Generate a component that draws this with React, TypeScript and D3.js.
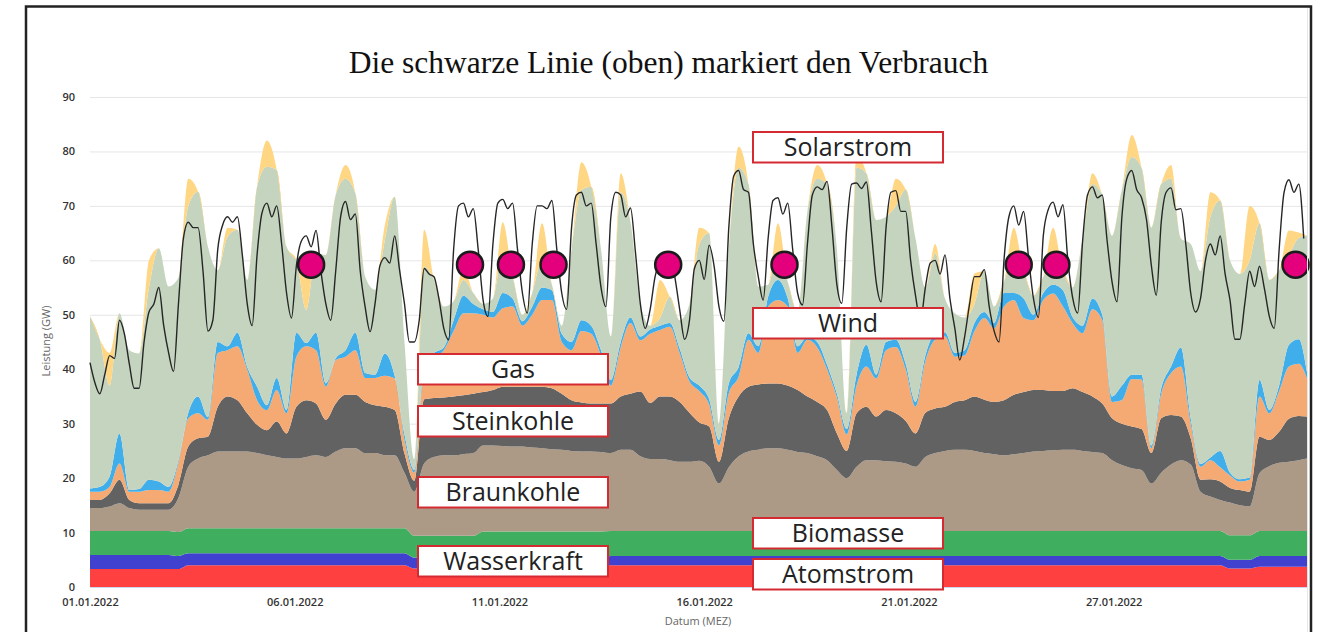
import React, { useEffect, useRef } from 'react';
import * as d3 from 'd3';

// Stromerzeugung Januar 2022, Werte in GW, alle 6 h (Stunden ab 01.01.2022 00:00, letzter Punkt 31.01. 23:00)
const mixHours = [...d3.range(0, 739, 6), 743];

const atomstrom = [
  3.3, 3.3, 3.3, 3.3, 3.3, 3.3, 3.3, 3.3, 3.3, 3.3, 4.0, 4.0,
  4.0, 4.0, 4.0, 4.0, 4.0, 4.0, 4.0, 4.0, 4.0, 4.0, 4.0, 4.0,
  4.0, 4.0, 4.0, 4.0, 4.0, 4.0, 4.0, 4.0, 4.0, 3.4, 3.4, 3.4,
  3.4, 3.4, 3.4, 3.4, 3.4, 3.4, 3.4, 3.4, 3.4, 3.4, 3.4, 3.4,
  3.4, 3.4, 3.4, 3.4, 3.4, 4.0, 4.0, 4.0, 4.0, 4.0, 4.0, 4.0,
  4.0, 4.0, 4.0, 4.0, 4.0, 4.0, 4.0, 4.0, 4.0, 4.0, 4.0, 4.0,
  4.0, 4.0, 4.0, 4.0, 4.0, 4.0, 4.0, 4.0, 4.0, 4.0, 4.0, 4.0,
  4.0, 4.0, 4.0, 4.0, 4.0, 4.0, 4.0, 4.0, 4.0, 4.0, 4.0, 4.0,
  4.0, 4.0, 4.0, 4.0, 4.0, 4.0, 4.0, 4.0, 4.0, 4.0, 4.0, 4.0,
  4.0, 4.0, 4.0, 4.0, 4.0, 4.0, 4.0, 4.0, 3.4, 3.4, 3.4, 3.7,
  3.7, 3.7, 3.7, 3.7, 3.7,
];
const wasserkraft = [
  2.6, 2.6, 2.6, 2.6, 2.6, 2.6, 2.6, 2.6, 2.6, 2.4, 2.2, 2.2,
  2.2, 2.2, 2.2, 2.2, 2.2, 2.2, 2.2, 2.2, 2.2, 2.2, 2.2, 2.2,
  2.2, 2.2, 2.2, 2.2, 2.2, 2.2, 2.2, 2.2, 2.2, 2.0, 2.0, 2.0,
  2.0, 2.0, 2.0, 2.0, 2.0, 2.0, 2.0, 2.0, 2.0, 2.0, 2.0, 2.0,
  2.0, 2.0, 2.0, 2.0, 2.0, 1.7, 1.7, 1.7, 1.7, 1.7, 1.7, 1.7,
  1.7, 1.7, 1.7, 1.7, 1.7, 1.7, 1.7, 1.7, 1.7, 1.7, 1.7, 1.7,
  1.7, 1.7, 1.7, 1.7, 1.7, 1.7, 1.7, 1.7, 1.7, 1.7, 1.7, 1.7,
  1.7, 1.7, 1.7, 1.7, 1.7, 1.7, 1.7, 1.7, 1.7, 1.7, 1.7, 1.7,
  1.7, 1.7, 1.7, 1.7, 1.7, 1.7, 1.7, 1.7, 1.7, 1.7, 1.7, 1.7,
  1.7, 1.7, 1.7, 1.7, 1.7, 1.7, 1.7, 1.7, 1.6, 1.6, 1.6, 2.0,
  2.0, 2.0, 2.0, 2.0, 2.0,
];
const biomasse = [
  4.4, 4.4, 4.4, 4.4, 4.4, 4.4, 4.4, 4.4, 4.4, 4.4, 4.6, 4.6,
  4.6, 4.6, 4.6, 4.6, 4.6, 4.6, 4.6, 4.6, 4.6, 4.6, 4.6, 4.6,
  4.6, 4.6, 4.6, 4.6, 4.6, 4.6, 4.6, 4.6, 4.6, 4.0, 4.0, 4.0,
  4.0, 4.0, 4.0, 4.0, 4.8, 4.8, 4.8, 4.8, 4.8, 4.8, 4.8, 4.8,
  4.8, 4.8, 4.8, 4.8, 4.8, 4.6, 4.6, 4.6, 4.6, 4.6, 4.6, 4.6,
  4.6, 4.6, 4.6, 4.6, 4.6, 4.6, 4.6, 4.6, 4.6, 4.6, 4.6, 4.6,
  4.6, 4.6, 4.6, 4.6, 4.6, 4.6, 4.6, 4.6, 4.6, 4.6, 4.6, 4.6,
  4.6, 4.6, 4.6, 4.6, 4.6, 4.6, 4.6, 4.6, 4.6, 4.6, 4.6, 4.6,
  4.6, 4.6, 4.6, 4.6, 4.6, 4.6, 4.6, 4.6, 4.6, 4.6, 4.6, 4.6,
  4.6, 4.6, 4.6, 4.6, 4.6, 4.6, 4.6, 4.6, 4.5, 4.5, 4.5, 4.6,
  4.6, 4.6, 4.6, 4.6, 4.6,
];
const braunkohle = [
  4.2, 4.2, 4.5, 5.1, 4.2, 3.9, 3.9, 3.9, 3.9, 6.3, 11.3, 12.8,
  13.4, 14.1, 14.1, 14.1, 14.1, 13.8, 13.4, 13.1, 12.8, 12.8, 13.1, 13.4,
  13.1, 14.1, 14.7, 14.7, 13.8, 13.8, 13.4, 13.4, 10.2, 8.1, 13.3, 14.5,
  14.8, 14.8, 15.0, 15.2, 15.8, 15.8, 15.7, 15.6, 15.6, 15.4, 15.3, 15.1,
  15.0, 14.8, 14.7, 14.7, 14.6, 14.3, 14.9, 14.9, 13.7, 13.2, 13.2, 13.0,
  12.7, 12.7, 12.9, 11.8, 8.7, 11.7, 13.7, 14.6, 14.9, 15.2, 15.2, 14.9,
  14.5, 14.3, 13.7, 13.0, 11.2, 9.7, 11.8, 13.0, 13.0, 12.8, 12.7, 12.4,
  11.8, 13.6, 14.3, 14.7, 14.9, 14.9, 14.7, 14.3, 14.1, 13.9, 14.1, 14.3,
  14.6, 14.7, 14.8, 14.9, 14.9, 14.7, 14.5, 14.3, 13.0, 12.1, 11.5, 11.2,
  8.7, 10.7, 12.2, 13.0, 12.2, 7.2, 6.3, 5.7, 6.0, 5.5, 5.3, 10.6,
  11.9, 12.5, 12.7, 13.0, 13.3,
];
const steinkohle = [
  1.5, 1.5, 2.4, 4.3, 1.5, 1.2, 1.2, 1.2, 1.2, 2.4, 3.7, 3.7,
  3.4, 8.2, 10.1, 9.4, 7.0, 5.2, 4.6, 6.5, 4.6, 9.5, 10.4, 9.5,
  6.8, 8.8, 9.8, 9.8, 9.4, 8.8, 8.9, 8.3, 3.5, 2.0, 11.8, 10.8,
  10.6, 10.8, 10.8, 10.9, 9.8, 10.2, 10.9, 11.0, 11.0, 11.2, 11.3, 11.2,
  10.3, 9.3, 9.0, 8.8, 8.9, 9.1, 9.8, 10.3, 11.9, 10.3, 11.5, 11.7,
  11.0, 9.0, 7.0, 7.4, 4.0, 9.0, 11.0, 11.9, 12.0, 11.9, 11.9, 11.8,
  11.4, 10.4, 10.0, 9.2, 6.7, 5.0, 9.8, 9.8, 8.0, 9.4, 8.9, 7.8,
  6.1, 8.1, 8.2, 8.1, 8.8, 9.1, 10.0, 9.8, 9.6, 10.1, 10.9, 11.2,
  11.3, 11.2, 10.9, 10.8, 11.3, 10.8, 10.2, 9.1, 7.7, 7.6, 7.7, 7.5,
  5.6, 10.0, 9.1, 8.0, 4.8, 2.2, 3.2, 3.4, 2.7, 2.8, 2.7, 6.7,
  4.8, 5.7, 7.9, 8.1, 7.7,
];
const gas = [
  1.5, 1.5, 1.2, 3.0, 1.5, 2.1, 2.4, 2.4, 2.1, 4.0, 5.2, 4.6,
  3.1, 9.9, 8.5, 9.9, 8.0, 4.5, 3.7, 5.8, 3.7, 9.2, 9.9, 9.8,
  6.1, 8.0, 7.0, 8.2, 4.4, 5.0, 5.7, 5.8, 2.5, 1.5, 5.5, 7.3,
  8.7, 12.0, 15.1, 14.8, 14.2, 13.3, 14.4, 14.7, 11.2, 13.2, 15.9, 16.2,
  9.5, 9.2, 13.1, 12.8, 8.8, 3.3, 9.0, 13.0, 9.4, 12.7, 12.2, 12.8,
  9.0, 5.8, 5.8, 4.0, 3.0, 4.6, 3.6, 8.6, 5.8, 14.1, 15.3, 14.5,
  6.8, 10.4, 10.0, 7.5, 6.6, 3.0, 5.1, 7.4, 7.0, 11.0, 12.2, 9.5,
  4.9, 9.5, 12.6, 12.9, 8.3, 8.2, 12.0, 15.0, 13.5, 17.2, 17.4, 13.6,
  12.8, 16.5, 17.9, 15.5, 11.9, 10.8, 16.0, 15.3, 3.0, 4.3, 8.7, 9.1,
  0.9, 4.5, 7.7, 9.2, 2.7, 2.4, 3.5, 2.6, 2.3, 1.6, 2.2, 7.4,
  4.9, 7.5, 9.6, 9.6, 7.0,
];
const sonstige = [
  0.6, 0.9, 1.9, 5.5, 0.3, 0.5, 1.9, 1.6, 0.9, 0.5, 1.0, 3.1,
  0.5, 2.0, 0.7, 2.5, 0.5, 2.5, 0.9, 2.2, 0.6, 4.4, 0.6, 3.2,
  0.6, 0.3, 1.2, 3.2, 0.9, 0.6, 4.1, 0.5, 1.0, 0.5, 1.0, 1.0,
  0.5, 2.0, 3.2, 1.7, 1.0, 1.0, 2.8, 1.5, 0.8, 1.5, 2.3, 1.8,
  1.5, 1.5, 2.0, 1.5, 1.0, 1.0, 1.0, 1.0, 0.7, 0.8, 0.8, 0.7,
  0.8, 0.7, 1.0, 1.0, 1.0, 1.8, 1.8, 1.2, 1.2, 1.8, 3.7, 1.5,
  1.2, 0.6, 1.0, 0.8, 0.7, 1.0, 2.0, 4.0, 0.7, 1.5, 1.3, 1.0,
  0.9, 1.0, 1.2, 0.8, 0.7, 1.0, 1.5, 1.1, 1.0, 2.5, 1.3, 3.6,
  1.0, 1.3, 1.6, 3.0, 1.1, 1.4, 2.0, 1.0, 1.0, 2.7, 0.8, 0.9,
  0.5, 1.0, 1.2, 3.5, 1.0, 0.5, 0.5, 3.0, 0.5, 0.4, 0.4, 3.0,
  0.6, 1.0, 4.0, 4.5, 1.2,
];
const wind = [
  31.6, 27.0, 16.7, 22.1, 25.7, 24.9, 35.3, 42.8, 36.8, 33.5, 38.0, 37.6,
  31.3, 13.2, 20.2, 18.9, 16.0, 36.7, 43.8, 38.2, 30.0, 13.3, 6.1, 14.6,
  23.6, 30.0, 31.5, 25.6, 17.7, 15.6, 20.8, 32.9, 17.0, 2.0, 17.8, 13.4,
  7.5, 3.5, 2.9, 2.0, 1.0, 2.5, 7.3, 4.0, 1.2, 2.5, 5.0, 1.0,
  1.5, 17.0, 23.9, 25.5, 18.5, 8.0, 27.5, 17.5, 6.0, 0.7, 1.4, 4.8,
  5.2, 13.5, 26.0, 30.5, 3.0, 24.6, 36.6, 27.4, 11.0, 2.2, 4.9, 3.0,
  6.3, 23.0, 30.0, 33.2, 26.5, 3.0, 38.0, 31.5, 28.4, 23.0, 24.6, 32.0,
  30.0, 12.5, 14.7, 6.2, 7.3, 6.0, 3.5, 7.5, 3.0, 2.0, 6.0, 5.0,
  3.5, 3.0, 4.0, 3.5, 5.5, 16.0, 21.0, 22.0, 29.5, 36.0, 40.0, 38.0,
  40.0, 37.5, 34.5, 20.0, 32.0, 35.4, 44.2, 46.0, 39.0, 37.7, 39.9, 28.8,
  23.9, 21.2, 16.5, 18.6, 25.0,
];
const solarstrom = [
  0, 0, 6.0, 0, 0, 0, 5.0, 0, 0, 0, 5.0, 0,
  0, 0, 1.6, 0, 0, 0, 4.8, 0, 0, 0, 7.3, 0,
  0, 0, 2.5, 0, 0, 0, 2.8, 0, 0, 0, 6.8, 0,
  0, 0, 2.1, 0, 0, 0, 5.7, 0, 0, 0, 6.8, 0,
  0, 0, 5.1, 0, 0, 0, 3.5, 0, 0, 0, 7.0, 0,
  0, 0, 3.0, 0, 0, 0, 3.9, 0, 0, 0, 5.5, 0,
  0, 0, 2.5, 0, 0, 0, 2.5, 0, 0, 0, 5.0, 0,
  0, 0, 1.7, 0, 0, 0, 5.6, 0, 0, 0, 6.0, 0,
  0, 0, 6.5, 0, 0, 0, 2.0, 0, 0, 0, 4.0, 0,
  0, 0, 2.5, 0, 0, 0, 4.5, 0, 0, 0, 10.0, 0,
  0, 0, 4.5, 1.0, 0,
];

// Verbrauch alle 3 h
const verbrauch = [
  41.2, 37.5, 35.5, 39, 42.5, 42, 49, 46.5,
  41, 36.5, 36.5, 45, 50.5, 52, 55, 48,
  43, 39.6, 52, 64, 67, 66, 66, 58,
  47, 49, 62, 66.5, 68, 67, 68, 61,
  52, 48, 61, 68.7, 70.5, 68, 70, 63,
  54, 49.4, 59, 63.5, 64.5, 62.5, 65.5, 58,
  52, 49, 58, 68, 70.8, 67.5, 68.5, 58,
  51.4, 46.9, 52, 59, 60.5, 59.5, 64.5, 58.2,
  52, 45, 45, 49, 58.5, 57.5, 57, 53,
  47.5, 45.4, 62, 70, 70.5, 68, 69.5, 62,
  52.7, 49.7, 63, 70.5, 71.2, 69.5, 70.5, 62,
  54, 50.3, 63, 70, 70, 69.5, 71, 62,
  54, 51, 66, 72, 72.5, 70, 70.5, 63,
  55, 51.5, 68, 72.5, 72, 68, 69.6, 61.5,
  52, 47.5, 51, 57, 59.5, 59, 61, 57,
  51, 45.5, 49, 58.5, 60, 56.5, 62.8, 59,
  51.5, 48.8, 66, 75.5, 76.5, 73, 72.5, 63,
  57, 52.7, 64, 71, 71.5, 68.5, 70.5, 62,
  54, 51.8, 63, 72, 73.5, 73, 74.5, 66,
  55.5, 52.1, 66, 74, 74.2, 73.2, 74.4, 65.5,
  56, 52.4, 66, 72.5, 72.8, 69, 69, 60,
  53.5, 49, 55, 59.5, 60, 57.5, 61, 53,
  47.5, 41.7, 46, 52, 57, 57, 58.3, 51.5,
  47, 45, 60, 68, 70, 66.5, 69, 60.5,
  53, 49.5, 64.5, 69.3, 70.7, 68, 70.2, 60,
  53, 50.3, 63.5, 72, 73.5, 71.5, 72, 63.5,
  56, 52.4, 68, 75, 76.5, 73, 71.5, 67.5,
  59, 53.6, 67, 72.5, 73.3, 69.3, 69.5, 63,
  54, 50.5, 53, 60, 63, 61, 64.5, 57.5,
  52.7, 45.5, 45.5, 52, 58, 55.2, 58.9, 54.8,
  49.7, 47.5, 62, 72.5, 74.8, 72.5, 74, 64,
];

const markerHours = [135, 232, 257, 283, 353, 424, 567, 590, 736];
const markerLevel = 59.2;

const yTicks = [0, 10, 20, 30, 40, 50, 60, 70, 80, 90];
const xTickHours = [0, 125, 250, 375, 500, 625];

const layers = [
  { key: 'atom', values: atomstrom, color: '#fe4040' },
  { key: 'wasser', values: wasserkraft, color: '#4141d0' },
  { key: 'bio', values: biomasse, color: '#3fae5f' },
  { key: 'braun', values: braunkohle, color: '#ad9a86' },
  { key: 'stein', values: steinkohle, color: '#626262' },
  { key: 'gas', values: gas, color: '#f6aa73' },
  { key: 'sonst', values: sonstige, color: '#40aeea' },
  { key: 'wind', values: wind, color: '#c4d4be' },
  { key: 'solar', values: solarstrom, color: '#ffd684' },
];

const labels = [
  { text: 'Solarstrom', x: 753, y: 132 },
  { text: 'Wind', x: 753, y: 308 },
  { text: 'Gas', x: 418, y: 354 },
  { text: 'Steinkohle', x: 418, y: 406 },
  { text: 'Braunkohle', x: 418, y: 477 },
  { text: 'Biomasse', x: 753, y: 518 },
  { text: 'Wasserkraft', x: 418, y: 546 },
  { text: 'Atomstrom', x: 753, y: 559 },
];

const W = 1329;
const H = 632;
const left = 90, right = 1307, top = 97, bottom = 587;

const App = () => {
  const ref = useRef<SVGSVGElement>(null);

  useEffect(() => {
    const svg = d3.select(ref.current);
    svg.selectAll('*').remove();

    const start = new Date(2022, 0, 1, 0);
    const toDate = (h: number) => d3.timeHour.offset(start, h);

    const x = d3.scaleTime().domain([start, toDate(743)]).range([left, right]);
    const y = d3.scaleLinear().domain([0, 90]).range([bottom, top]);

    svg.append('rect').attr('width', W).attr('height', H).attr('fill', '#fff');

    // grid + y labels
    const yAxis = svg.append('g')
      .attr('transform', `translate(${left},0)`)
      .call(d3.axisLeft(y).tickValues(yTicks).tickSize(-(right - left)).tickPadding(15));
    yAxis.select('.domain').remove();
    yAxis.selectAll('line').attr('stroke', '#e6e6e6');
    yAxis.selectAll('text')
      .attr('fill', '#333')
      .style('font', '600 11px "Open Sans", sans-serif');

    // stacked areas
    const rows = mixHours.map((h, i) => {
      const row: any = { date: toDate(h) };
      layers.forEach(l => { row[l.key] = l.values[i]; });
      return row;
    });
    const series = d3.stack().keys(layers.map(l => l.key))(rows);
    const area = d3.area<any>()
      .x(d => x(d.data.date))
      .y0(d => y(d[0]))
      .y1(d => y(d[1]))
      .curve(d3.curveMonotoneX);

    svg.append('g')
      .selectAll('path')
      .data(series)
      .join('path')
      .attr('d', area)
      .attr('fill', (d, i) => layers[i].color);

    // x axis
    const xAxis = svg.append('g')
      .attr('transform', `translate(0,${bottom})`)
      .call(d3.axisBottom(x)
        .tickValues(xTickHours.map(toDate))
        .tickFormat(d3.timeFormat('%d.%m.%Y') as any)
        .tickSize(0)
        .tickPadding(11));
    xAxis.select('.domain').attr('stroke', '#ccd6eb');
    xAxis.selectAll('text')
      .attr('fill', '#333')
      .style('font', '600 11px "Open Sans", sans-serif');

    // consumption line
    const line = d3.line<number>()
      .x((d, i) => x(toDate(i * 3)))
      .y(d => y(d))
      .curve(d3.curveMonotoneX);
    svg.append('path')
      .datum(verbrauch)
      .attr('d', line)
      .attr('fill', 'none')
      .attr('stroke', '#262626')
      .attr('stroke-width', 1.4);

    svg.selectAll('.marker')
      .data(markerHours)
      .join('circle')
      .attr('class', 'marker')
      .attr('cx', d => x(toDate(d)))
      .attr('cy', y(markerLevel))
      .attr('r', 13)
      .attr('fill', '#e4007c')
      .attr('stroke', '#1b1b1b')
      .attr('stroke-width', 2.5);

    // axis titles + title
    svg.append('text')
      .attr('x', 698).attr('y', 625)
      .attr('text-anchor', 'middle')
      .attr('fill', '#666')
      .style('font', '11px "Open Sans", sans-serif')
      .text('Datum (MEZ)');
    svg.append('text')
      .attr('transform', 'translate(50,341) rotate(-90)')
      .attr('text-anchor', 'middle')
      .attr('fill', '#666')
      .style('font', '11px "Open Sans", sans-serif')
      .text('Leistung (GW)');
    svg.append('text')
      .attr('x', 668.5).attr('y', 73)
      .attr('text-anchor', 'middle')
      .attr('fill', '#111')
      .style('font', '31.5px "Liberation Serif", serif')
      .text('Die schwarze Linie (oben) markiert den Verbrauch');

    // annotation boxes
    const box = svg.append('g')
      .selectAll('g')
      .data(labels)
      .join('g')
      .attr('transform', d => `translate(${d.x},${d.y})`);
    box.append('rect')
      .attr('width', 190).attr('height', 30.5)
      .attr('fill', '#fff')
      .attr('stroke', '#d42a32')
      .attr('stroke-width', 2);
    box.append('text')
      .attr('x', 95).attr('y', 24)
      .attr('text-anchor', 'middle')
      .attr('fill', '#222')
      .style('font', '25px "Open Sans", sans-serif')
      .text(d => d.text);

    // frame
    svg.append('line')
      .attr('x1', right + 0.5).attr('x2', right + 0.5)
      .attr('y1', 8).attr('y2', H)
      .attr('stroke', '#e6e6e6');
    svg.append('rect')
      .attr('x', 26).attr('y', 6.5)
      .attr('width', 1285).attr('height', 700)
      .attr('fill', 'none')
      .attr('stroke', '#222')
      .attr('stroke-width', 2.5);
  }, []);

  return (
    <svg ref={ref} width={W} height={H}
      style={{ position: 'absolute', left: 0, top: 0, display: 'block' }} />
  );
};

export default App;
